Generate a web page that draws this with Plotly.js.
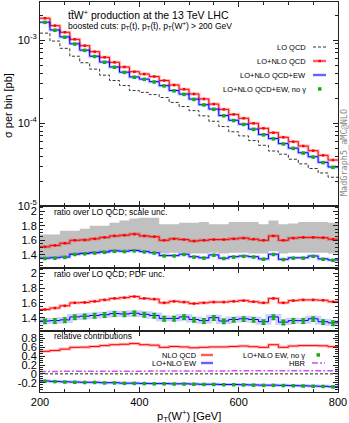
<!DOCTYPE html>
<html>
<head>
<meta charset="utf-8">
<script src="https://cdn.plot.ly/plotly-3.0.1.min.js"></script>
<style>
  html, body { margin: 0; padding: 0; background: #fff; }
  #chart { width: 349px; height: 423px; }
</style>
</head>
<body>
<div id="chart"></div>
<script>
// pT(W+) bins, 20 GeV wide
const binEdges = [200, 220, 240, 260, 280, 300, 320, 340, 360, 380, 400, 420, 440, 460, 480, 500,
  520, 540, 560, 580, 600, 620, 640, 660, 680, 700, 720, 740, 760, 780, 800];

// sigma per bin [pb]
const loQCD = [1.21e-3, 9.72e-4, 7.94e-4, 6.38e-4, 5.32e-4, 4.46e-4, 3.77e-4, 3.25e-4, 2.83e-4, 2.46e-4,
  2.34e-4, 2.20e-4, 2.03e-4, 1.77e-4, 1.58e-4, 1.41e-4, 1.22e-4, 1.05e-4, 9.07e-5, 7.84e-5,
  6.99e-5, 6.14e-5, 5.39e-5, 4.60e-5, 4.21e-5, 3.66e-5, 3.22e-5, 2.83e-5, 2.50e-5, 2.22e-5];
const nloQCD = [1.83e-3, 1.49e-3, 1.24e-3, 1.02e-3, 8.54e-4, 7.23e-4, 6.19e-4, 5.39e-4, 4.73e-4, 4.15e-4,
  3.89e-4, 3.63e-4, 3.25e-4, 2.87e-4, 2.55e-4, 2.24e-4, 1.95e-4, 1.69e-4, 1.46e-4, 1.27e-4,
  1.14e-4, 9.91e-5, 8.63e-5, 7.64e-5, 6.73e-5, 5.96e-5, 5.28e-5, 4.64e-5, 4.08e-5, 3.58e-5];
const nloQCDEW = [1.64e-3, 1.32e-3, 1.09e-3, 8.99e-4, 7.55e-4, 6.38e-4, 5.43e-4, 4.73e-4, 4.10e-4, 3.59e-4,
  3.38e-4, 3.15e-4, 2.82e-4, 2.46e-4, 2.23e-4, 1.94e-4, 1.66e-4, 1.47e-4, 1.23e-4, 1.08e-4,
  9.68e-5, 8.44e-5, 7.25e-5, 6.49e-5, 5.64e-5, 4.98e-5, 4.38e-5, 3.92e-5, 3.36e-5, 2.95e-5];
const nloQCDEWnoGamma = [1.63e-3, 1.31e-3, 1.08e-3, 8.93e-4, 7.50e-4, 6.33e-4, 5.39e-4, 4.69e-4, 4.07e-4, 3.56e-4,
  3.35e-4, 3.12e-4, 2.80e-4, 2.44e-4, 2.21e-4, 1.92e-4, 1.65e-4, 1.46e-4, 1.22e-4, 1.07e-4,
  9.60e-5, 8.37e-5, 7.19e-5, 6.43e-5, 5.59e-5, 4.94e-5, 4.34e-5, 3.88e-5, 3.33e-5, 2.92e-5];

// ratios over LO QCD
const ratioQCD = [1.51, 1.53, 1.56, 1.60, 1.605, 1.62, 1.64, 1.66, 1.67, 1.685,
  1.66, 1.65, 1.60, 1.62, 1.61, 1.59, 1.60, 1.61, 1.61, 1.62,
  1.63, 1.615, 1.60, 1.66, 1.60, 1.63, 1.64, 1.64, 1.635, 1.615];
const ratioQCDEW = [1.355, 1.36, 1.37, 1.41, 1.42, 1.43, 1.44, 1.455, 1.45, 1.46,
  1.445, 1.43, 1.39, 1.39, 1.41, 1.375, 1.36, 1.40, 1.355, 1.375,
  1.385, 1.375, 1.345, 1.41, 1.34, 1.36, 1.36, 1.385, 1.345, 1.33];
const ratioNoGamma = [1.35, 1.355, 1.365, 1.405, 1.415, 1.425, 1.435, 1.45, 1.445, 1.455,
  1.44, 1.425, 1.385, 1.385, 1.405, 1.37, 1.355, 1.395, 1.35, 1.37,
  1.38, 1.37, 1.34, 1.405, 1.335, 1.355, 1.355, 1.38, 1.34, 1.325];
const scaleUp = [1.68, 1.68, 1.73, 1.73, 1.76, 1.80, 1.80, 1.84, 1.87, 1.90,
  1.91, 1.91, 1.82, 1.82, 1.84, 1.84, 1.85, 1.82, 1.82, 1.85,
  1.85, 1.85, 1.82, 1.87, 1.82, 1.83, 1.85, 1.85, 1.85, 1.84];
const scaleDown = [1.36, 1.37, 1.38, 1.40, 1.41, 1.42, 1.43, 1.45, 1.46, 1.47,
  1.46, 1.45, 1.42, 1.43, 1.43, 1.42, 1.42, 1.43, 1.42, 1.43,
  1.43, 1.42, 1.42, 1.45, 1.42, 1.43, 1.43, 1.43, 1.43, 1.42];
const pdfErrNoGamma = [0.03, 0.03, 0.03, 0.03, 0.03, 0.03, 0.03, 0.03, 0.03, 0.03,
  0.03, 0.03, 0.03, 0.03, 0.03, 0.03, 0.03, 0.03, 0.03, 0.03,
  0.03, 0.03, 0.03, 0.03, 0.03, 0.03, 0.03, 0.03, 0.03, 0.03];

// relative contributions
const relQCD = [0.51, 0.53, 0.56, 0.60, 0.605, 0.62, 0.64, 0.66, 0.67, 0.685,
  0.66, 0.65, 0.60, 0.62, 0.61, 0.59, 0.60, 0.61, 0.61, 0.62,
  0.63, 0.615, 0.60, 0.66, 0.60, 0.63, 0.64, 0.64, 0.635, 0.615];
const relEW = [-0.16, -0.17, -0.18, -0.185, -0.19, -0.19, -0.20, -0.20, -0.21, -0.21,
  -0.215, -0.22, -0.22, -0.225, -0.225, -0.23, -0.235, -0.235, -0.24, -0.24,
  -0.245, -0.25, -0.255, -0.255, -0.26, -0.265, -0.27, -0.275, -0.28, -0.29];
const relEWnoGamma = [-0.165, -0.175, -0.185, -0.19, -0.195, -0.195, -0.205, -0.205, -0.215, -0.215,
  -0.22, -0.225, -0.225, -0.23, -0.23, -0.235, -0.24, -0.24, -0.245, -0.245,
  -0.25, -0.255, -0.26, -0.26, -0.265, -0.27, -0.275, -0.28, -0.285, -0.295];
const relHBR = [0.055, 0.055, 0.057, 0.057, 0.058, 0.06, 0.06, 0.061, 0.061, 0.062,
  0.062, 0.063, 0.064, 0.064, 0.065, 0.066, 0.066, 0.067, 0.067, 0.068,
  0.068, 0.069, 0.069, 0.07, 0.07, 0.071, 0.071, 0.072, 0.072, 0.073];

const binCenters = binEdges.slice(0, -1).map((e, i) => (e + binEdges[i + 1]) / 2);

const RED = '#ff0000';
const RED_HALO = 'rgba(255,0,0,0.28)';
const BLUE = '#0000ff';
const BLUE_HALO = 'rgba(40,40,255,0.28)';
const GREEN = '#10b010';
const HBR = '#cc55ee';
const INK = '#222222';

function step(values, axis, line) {
  return {
    x: binEdges,
    y: values.concat([values[values.length - 1]]),
    xaxis: 'x' + axis, yaxis: 'y' + axis,
    mode: 'lines',
    line: Object.assign({ shape: 'hv' }, line),
    hoverinfo: 'skip', showlegend: false,
  };
}

function points(values, axis, color, size, err) {
  const t = {
    x: binCenters, y: values,
    xaxis: 'x' + axis, yaxis: 'y' + axis,
    mode: 'markers', type: 'scatter',
    marker: { symbol: 'square', color: color, size: size, line: { width: 0 } },
    hoverinfo: 'skip', showlegend: false,
  };
  if (err) {
    t.error_y = { type: 'data', array: err, visible: true, color: color, thickness: 1.5, width: 2 };
  }
  return t;
}

const traces = [
  // main panel
  step(loQCD, '', { color: '#333', width: 1, dash: '3px,2px' }),
  step(nloQCD, '', { color: RED_HALO, width: 3 }),
  step(nloQCD, '', { color: RED, width: 1 }),
  points(nloQCD, '', RED, 2.5),
  step(nloQCDEW, '', { color: BLUE_HALO, width: 3 }),
  step(nloQCDEW, '', { color: BLUE, width: 1 }),
  points(nloQCDEWnoGamma, '', GREEN, 3.5),

  // ratio, scale uncertainty
  step(scaleUp, '2', { color: 'rgba(0,0,0,0)', width: 0 }),
  Object.assign(step(scaleDown, '2', { color: 'rgba(0,0,0,0)', width: 0 }),
    { fill: 'tonexty', fillcolor: '#c0c0c0' }),
  step(ratioQCD, '2', { color: RED_HALO, width: 3 }),
  step(ratioQCD, '2', { color: RED, width: 1 }),
  points(ratioQCD, '2', RED, 2.5),
  step(ratioQCDEW, '2', { color: BLUE_HALO, width: 3 }),
  step(ratioQCDEW, '2', { color: BLUE, width: 1 }),
  points(ratioNoGamma, '2', GREEN, 3.5),

  // ratio, PDF uncertainty
  step(ratioQCD, '3', { color: RED_HALO, width: 3 }),
  step(ratioQCD, '3', { color: RED, width: 1 }),
  points(ratioQCD, '3', RED, 2.5),
  step(ratioQCDEW, '3', { color: 'rgba(70,70,255,0.25)', width: 6 }),
  step(ratioQCDEW, '3', { color: BLUE, width: 1 }),
  points(ratioNoGamma, '3', GREEN, 3, pdfErrNoGamma),

  // relative contributions
  step(relHBR, '4', { color: HBR, width: 1.5, dash: '6px,2px,2px,2px' }),
  step(relQCD, '4', { color: RED_HALO, width: 3 }),
  step(relQCD, '4', { color: RED, width: 1 }),
  step(relEW, '4', { color: BLUE_HALO, width: 3 }),
  step(relEW, '4', { color: BLUE, width: 1 }),
  points(relEWnoGamma, '4', GREEN, 3.5),
];

// pixel -> paper helpers (plot area spans x 40..338, y 2..392)
const px = x => (x - 40) / 298;
const py = y => (392 - y) / 390;

const frame = {
  showline: true, linecolor: INK, linewidth: 1, mirror: 'ticks',
  ticks: 'inside', ticklen: 5, tickwidth: 1, tickcolor: INK,
  showgrid: false, zeroline: false,
  tickfont: { size: 11, color: '#000' },
};

function xAxis(anchor, labels) {
  return Object.assign({}, frame, {
    range: [200, 800], anchor: anchor,
    tickvals: [200, 400, 600, 800],
    ticktext: ['200', '400', '600', '800'],
    showticklabels: labels,
    minor: { ticks: 'inside', ticklen: 3, tick0: 200, dtick: 50, tickcolor: INK },
  });
}

const logMinor = [];
for (let d = -5; d <= -3; d++) {
  for (let m = 2; m <= 9; m++) logMinor.push(m * Math.pow(10, d));
}

const ratioAxis = {
  range: [1.22, 2.07],
  tickvals: [1.4, 1.6, 1.8, 2],
  ticktext: ['1.4', '1.6', '1.8', '2'],
  minor: { ticks: 'inside', ticklen: 3, tick0: 0, dtick: 0.05, tickcolor: INK },
};

const layout = {
  width: 349, height: 423,
  margin: { l: 40, r: 11, t: 2, b: 31 },
  paper_bgcolor: '#ffffff', plot_bgcolor: '#ffffff',
  font: { family: 'Liberation Sans, Arial, sans-serif', size: 11, color: '#000' },
  showlegend: false,
  xaxis: xAxis('y', false),
  xaxis2: Object.assign(xAxis('y2', false), { matches: 'x' }),
  xaxis3: Object.assign(xAxis('y3', false), { matches: 'x' }),
  xaxis4: Object.assign(xAxis('y4', true), { matches: 'x' }),
  yaxis: Object.assign({}, frame, {
    type: 'log', domain: [0.4769, 1], range: [-5, -2.542], anchor: 'x',
    tickvals: [1e-5, 1e-4, 1e-3],
    ticktext: ['10<sup>-5</sup>', '10<sup>-4</sup>', '10<sup>-3</sup>'],
    minor: { ticks: 'inside', ticklen: 3, tickvals: logMinor, tickcolor: INK },
  }),
  yaxis2: Object.assign({}, frame, ratioAxis, { domain: [0.3179, 0.4769], anchor: 'x2' }),
  yaxis3: Object.assign({}, frame, ratioAxis, { domain: [0.1564, 0.3179], anchor: 'x3' }),
  yaxis4: Object.assign({}, frame, {
    domain: [0, 0.1564], anchor: 'x4', range: [-0.41, 0.97],
    tickvals: [-0.2, 0, 0.2, 0.4, 0.6, 0.8],
    ticktext: ['-0.2', '0', '0.2', '0.4', '0.6', '0.8'],
    minor: { ticks: 'inside', ticklen: 3, tick0: 0, dtick: 0.05, tickcolor: INK },
  }),
  shapes: [
    { type: 'line', xref: 'x4', yref: 'y4', x0: 200, x1: 800, y0: 0, y1: 0,
      line: { color: INK, width: 1, dash: '3px,2px' }, layer: 'below' },
    // main legend samples
    { type: 'line', xref: 'paper', yref: 'paper', x0: px(313), x1: px(326), y0: py(47), y1: py(47),
      line: { color: '#333', width: 1, dash: '3px,2px' } },
    { type: 'line', xref: 'paper', yref: 'paper', x0: px(313), x1: px(326), y0: py(61), y1: py(61),
      line: { color: RED_HALO, width: 3 } },
    { type: 'line', xref: 'paper', yref: 'paper', x0: px(313), x1: px(326), y0: py(61), y1: py(61),
      line: { color: RED, width: 1 } },
    { type: 'rect', xref: 'paper', yref: 'paper', x0: px(318.5), x1: px(321), y0: py(62.2), y1: py(59.8),
      fillcolor: RED, line: { width: 0 } },
    { type: 'line', xref: 'paper', yref: 'paper', x0: px(313), x1: px(326), y0: py(75), y1: py(75),
      line: { color: BLUE_HALO, width: 3 } },
    { type: 'line', xref: 'paper', yref: 'paper', x0: px(313), x1: px(326), y0: py(75), y1: py(75),
      line: { color: BLUE, width: 1 } },
    { type: 'rect', xref: 'paper', yref: 'paper', x0: px(318), x1: px(321.5), y0: py(90.7), y1: py(87.2),
      fillcolor: GREEN, line: { width: 0 } },
    // relative-contribution legend samples
    { type: 'line', xref: 'paper', yref: 'paper', x0: px(201), x1: px(213), y0: py(355), y1: py(355),
      line: { color: RED_HALO, width: 3 } },
    { type: 'line', xref: 'paper', yref: 'paper', x0: px(201), x1: px(213), y0: py(355), y1: py(355),
      line: { color: RED, width: 1 } },
    { type: 'line', xref: 'paper', yref: 'paper', x0: px(201), x1: px(213), y0: py(363), y1: py(363),
      line: { color: BLUE_HALO, width: 3 } },
    { type: 'line', xref: 'paper', yref: 'paper', x0: px(201), x1: px(213), y0: py(363), y1: py(363),
      line: { color: BLUE, width: 1 } },
    { type: 'rect', xref: 'paper', yref: 'paper', x0: px(316.5), x1: px(320), y0: py(356.7), y1: py(353.2),
      fillcolor: GREEN, line: { width: 0 } },
    { type: 'line', xref: 'paper', yref: 'paper', x0: px(312), x1: px(325), y0: py(363), y1: py(363),
      line: { color: HBR, width: 1.5, dash: '6px,2px,2px,2px' } },
  ],
  annotations: [],
};

function note(text, x, y, opts) {
  layout.annotations.push(Object.assign({
    text: text, xref: 'paper', yref: 'paper', x: px(x), y: py(y),
    xanchor: 'left', yanchor: 'middle', showarrow: false,
    font: { size: 8.5, color: '#000' }, borderpad: 0,
  }, opts || {}));
}

note('tt\u0304W<sup>+</sup> production at the 13 TeV LHC', 67, 15, { font: { size: 10.5, color: '#000' } });
note('boosted cuts: p<sub>T</sub>(t), p<sub>T</sub>(t\u0304), p<sub>T</sub>(W<sup>+</sup>) &gt; 200 GeV', 67, 25,
  { font: { size: 8.5, color: '#000' } });

const legendFont = { size: 7.5, color: '#000' };
note('LO QCD', 307, 47, { xanchor: 'right', font: legendFont });
note('LO+NLO QCD', 307, 61, { xanchor: 'right', font: legendFont });
note('LO+NLO QCD+EW', 307, 75, { xanchor: 'right', font: legendFont });
note('LO+NLO QCD+EW, no \u03b3', 307, 89, { xanchor: 'right', font: legendFont });

note('ratio over LO QCD; scale unc.', 53, 212);
note('ratio over LO QCD; PDF unc.', 53, 274);
note('relative contributions', 53, 336);

note('NLO QCD', 198, 355, { xanchor: 'right', font: legendFont });
note('LO+NLO EW', 198, 363, { xanchor: 'right', font: legendFont });
note('LO+NLO EW, no \u03b3', 306, 355, { xanchor: 'right', font: legendFont });
note('HBR', 306, 363, { xanchor: 'right', font: legendFont });

note('\u03c3 per bin [pb]', 8, 106, { xanchor: 'center', textangle: -90, font: { size: 11, color: '#000' } });
note('p<sub>T</sub>(W<sup>+</sup>) [GeV]', 189, 416, { xanchor: 'center', font: { size: 11, color: '#000' } });
note('MadGraph5_aMC@NLO', 344, 153, { xanchor: 'center', textangle: -90,
  font: { family: 'DejaVu Sans Mono, monospace', size: 8.5, color: '#888' } });

Plotly.newPlot('chart', traces, layout, { displayModeBar: false, staticPlot: true });
</script>
</body>
</html>
